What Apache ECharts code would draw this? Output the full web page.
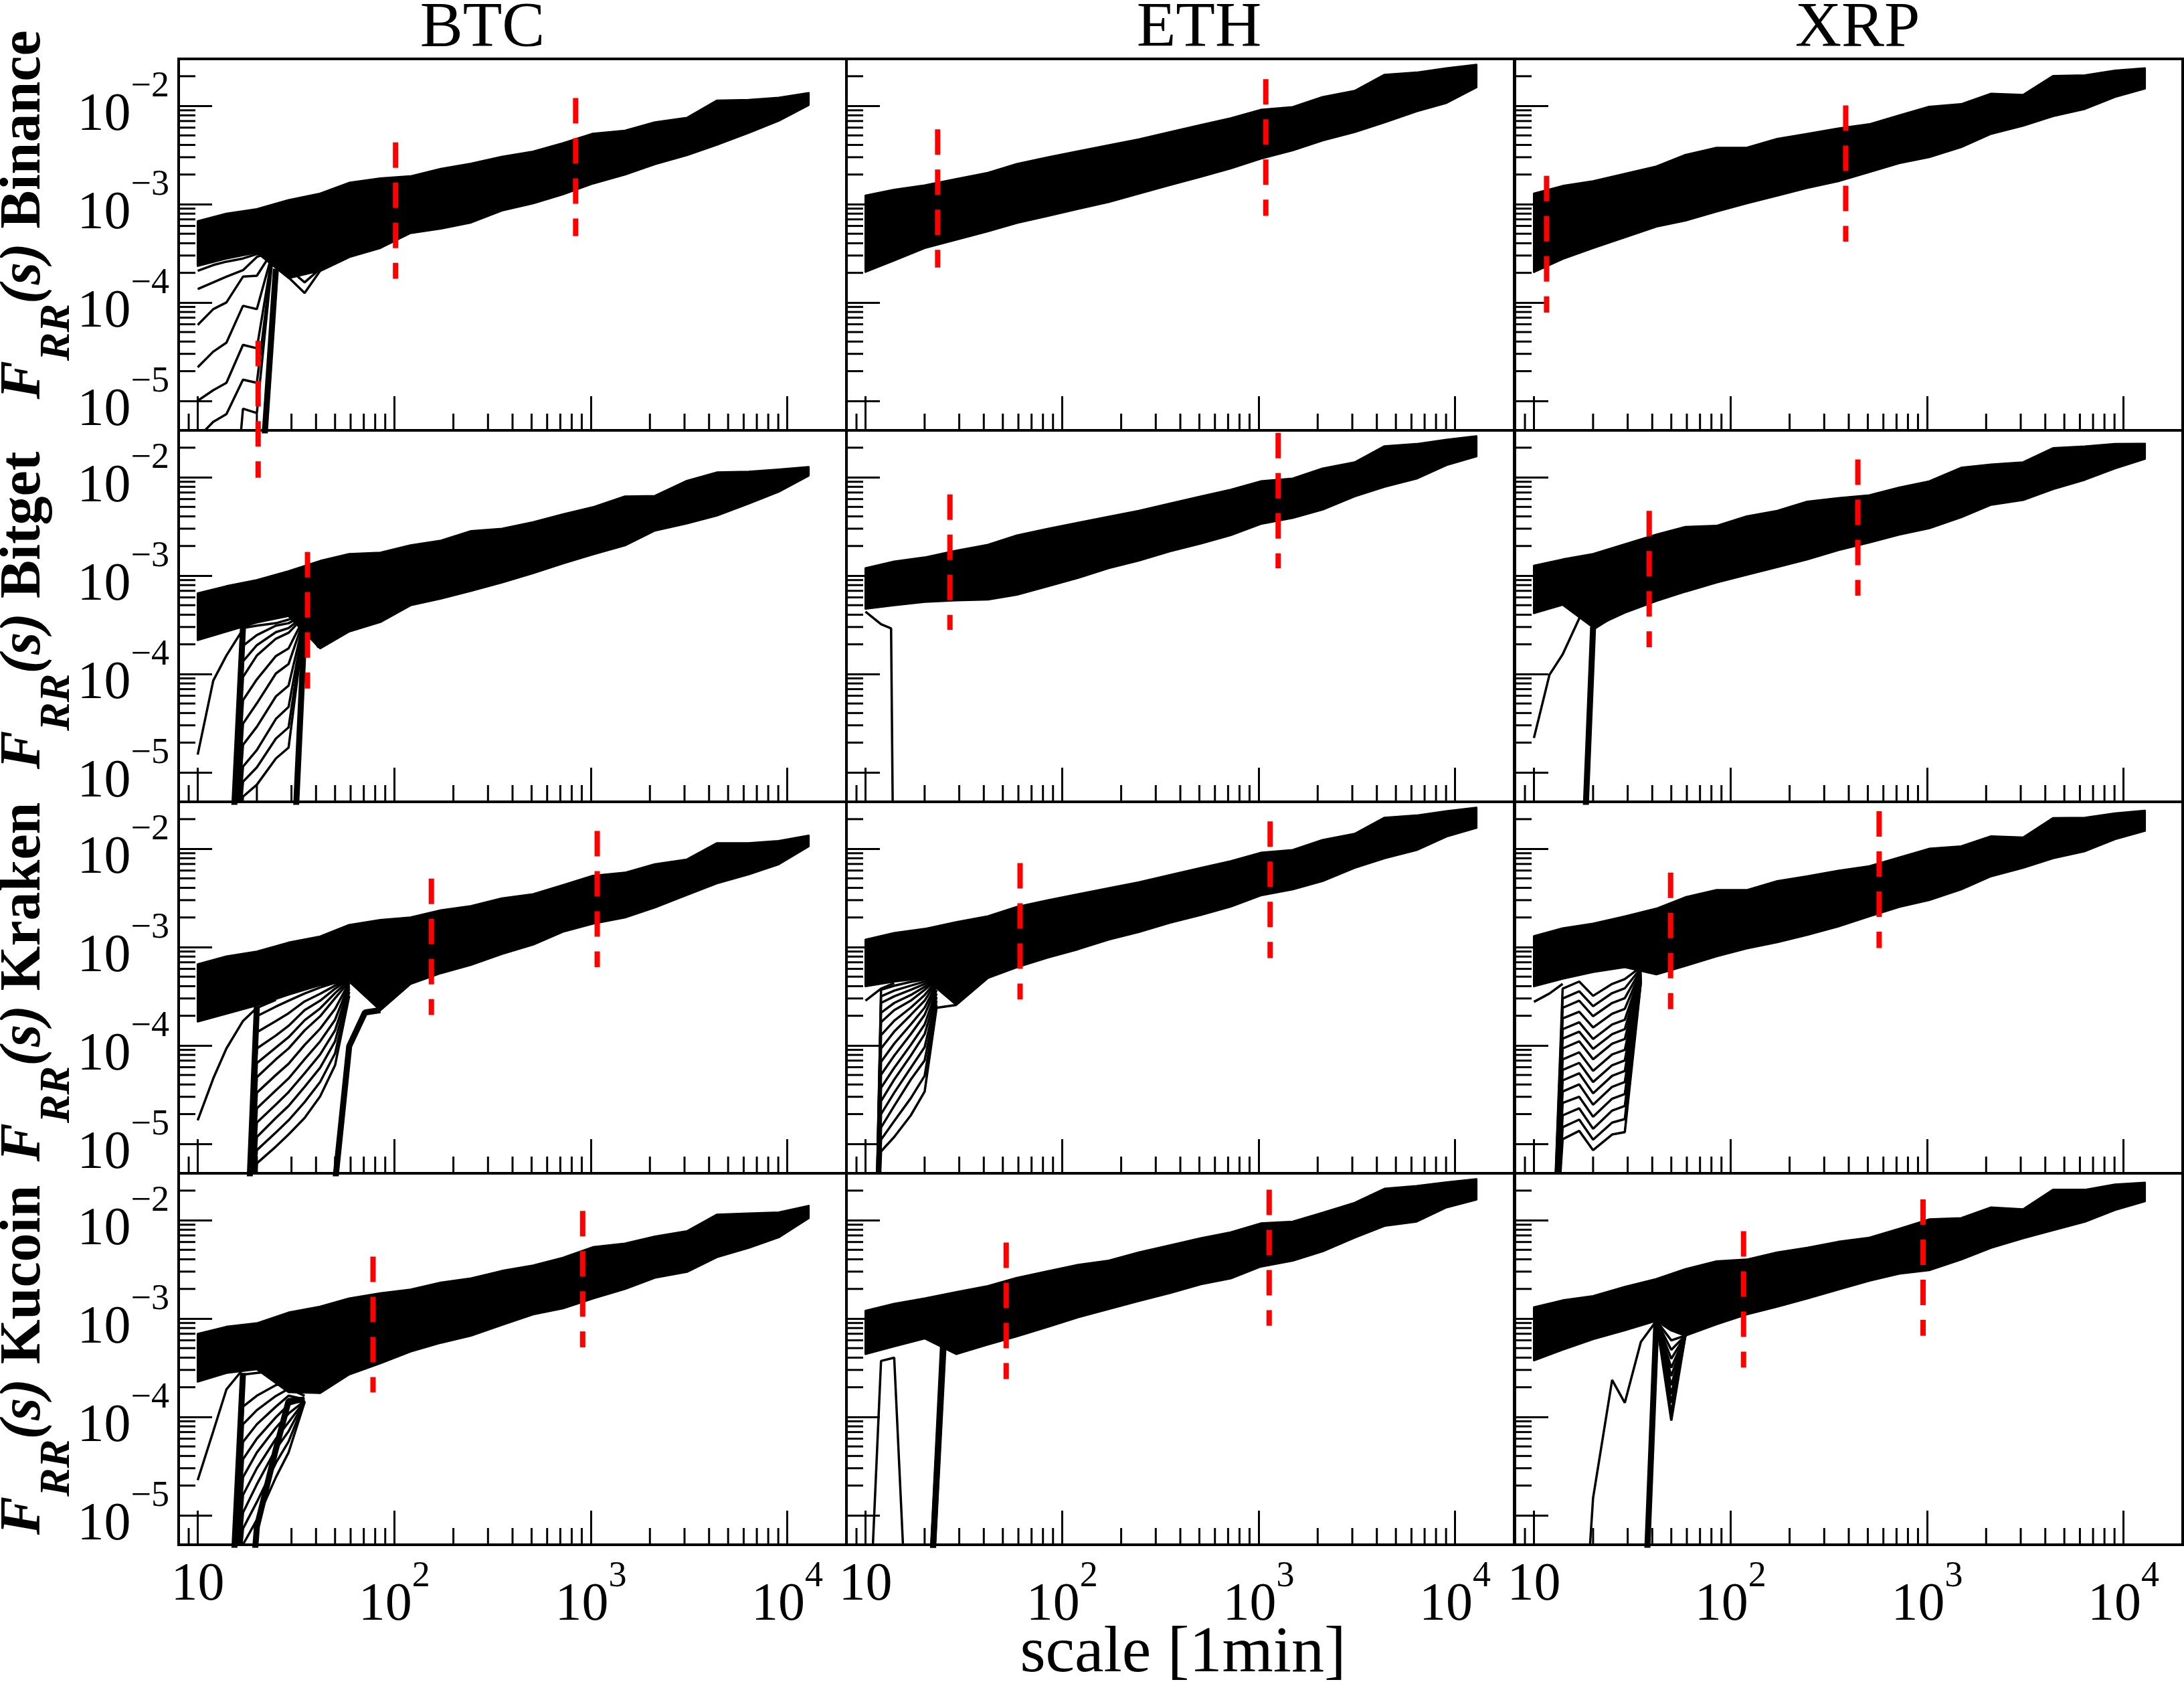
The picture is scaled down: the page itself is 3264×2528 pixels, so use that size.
<!DOCTYPE html>
<html>
<head>
<meta charset="utf-8">
<script src="https://cdn.jsdelivr.net/npm/echarts@6/dist/echarts.min.js"></script>
<style>
  html, body { margin: 0; padding: 0; background: #fff; }
  #chart { width: 3264px; height: 2528px; }
</style>
</head>
<body>
<div id="chart"></div>
<script>
// ---- data ----
const coins = ['BTC', 'ETH', 'XRP'];
const exchanges = ['Binance', 'Bitget', 'Kraken', 'Kucoin'];

// scale grid (1 min units) used for the band edges
const scales = [10, 14, 20, 29, 42, 59, 85, 121, 173, 246, 353, 509, 722, 1026, 1493, 2120, 3085, 4378, 6370, 9046, 12850];

// tick values
const xMinorTicks = [9, 20, 30, 40, 50, 60, 70, 80, 90, 200, 300, 400, 500, 600, 700, 800, 900,
  2000, 3000, 4000, 5000, 6000, 7000, 8000, 9000];
const yMinorTicks = [2e-5, 3e-5, 4e-5, 5e-5, 6e-5, 7e-5, 8e-5, 9e-5, 2e-4, 3e-4, 4e-4, 5e-4, 6e-4, 7e-4, 8e-4, 9e-4,
  2e-3, 3e-3, 4e-3, 5e-3, 6e-3, 7e-3, 8e-3, 9e-3, 2e-2];

// BTC
const btcBinanceUpper = [6.7e-4, 8.0e-4, 8.9e-4, 1.1e-3, 1.28e-3, 1.65e-3, 1.83e-3, 1.92e-3, 2.29e-3, 2.58e-3, 3.03e-3, 3.42e-3, 4.16e-3, 5.21e-3, 5.59e-3, 6.8e-3, 7.55e-3, 1.13e-2, 1.15e-2, 1.21e-2, 1.35e-2];
const btcBinanceLower = [2.35e-4, 2.8e-4, 3.22e-4, 1.77e-4, 2.11e-4, 2.9e-4, 3.58e-4, 5.08e-4, 5.65e-4, 6.5e-4, 8.6e-4, 1.02e-3, 1.26e-3, 1.62e-3, 2.0e-3, 2.55e-3, 3.15e-3, 4.02e-3, 5.32e-3, 7.05e-3, 1.02e-2];
const btcBinanceTails = [
  [[10, 2.1e-4], [12, 2.4e-4], [14, 2.6e-4], [17, 2.8e-4], [20, 3.1e-4], [24, 3.3e-4]],
  [[10, 1.37e-4], [12, 1.6e-4], [14, 1.83e-4], [17, 2.13e-4], [20, 2.9e-4], [24, 3.3e-4]],
  [[10, 5.9e-5], [12, 8.55e-5], [14, 1.0e-4], [17, 1.83e-4], [20, 1.87e-4], [24, 3.3e-4]],
  [[10, 2.19e-5], [12, 3.16e-5], [14, 3.9e-5], [17, 9.25e-5], [20, 8.55e-5], [24, 3.2e-4]],
  [[10, 1.0e-5], [12, 1.28e-5], [14, 1.52e-5], [17, 3.7e-5], [20, 3.42e-5], [24, 3.1e-4]],
  [[10, 4.2e-6], [12, 6.1e-6], [14, 7.3e-6], [17, 1.64e-5], [20, 1.52e-5], [24, 3.0e-4]],
  [[14, 1e-7], [17, 8.3e-6], [20, 7.5e-6], [24, 2.8e-4]],
  [[24, 3.3e-4], [29, 1.8e-4], [35, 1.25e-4], [42, 2.1e-4], [59, 2.9e-4]],
  [[24, 3.3e-4], [29, 2.2e-4], [35, 1.6e-4], [42, 2.2e-4]]
];
const btcBinanceThick = [[[20, 3e-7], [25, 2.2e-4]]];
const btcBinanceMarks = [[101.6, 4.25e-3, 1.74e-4], [838, 1.2e-2, 4.73e-4], [20.3, 4.07e-5, 1.65e-6]];

const btcBitgetUpper = [6.6e-4, 7.8e-4, 9.0e-4, 1.11e-3, 1.41e-3, 1.66e-3, 1.71e-3, 2.03e-3, 2.27e-3, 2.84e-3, 3.0e-3, 3.49e-3, 4.2e-3, 4.96e-3, 6.39e-3, 6.46e-3, 9.2e-3, 1.12e-2, 1.14e-2, 1.2e-2, 1.27e-2];
const btcBitgetLower = [2.21e-4, 2.7e-4, 3.34e-4, 3.88e-4, 1.82e-4, 2.7e-4, 3.37e-4, 4.99e-4, 5.84e-4, 6.99e-4, 8.5e-4, 1.06e-3, 1.33e-3, 1.64e-3, 2.03e-3, 2.87e-3, 3.39e-3, 4.08e-3, 5.4e-3, 7.14e-3, 1.04e-2];
const btcBitgetTails = [
  [[10, 1.51e-5], [12, 8.55e-5], [14, 1.54e-4], [17, 2.85e-4], [20, 3.77e-4]],
  [[14, 1e-7], [17, 2.93e-4], [20, 3.1e-4], [25, 3.28e-4], [29, 3.57e-4], [35, 3.99e-4]],
  [[14, 1e-7], [17, 1.93e-4], [20, 2.48e-4], [25, 3.1e-4], [29, 3.28e-4], [35, 3.99e-4]],
  [[14, 1e-7], [17, 1.34e-4], [20, 1.96e-4], [25, 2.66e-4], [29, 2.93e-4], [35, 3.94e-4]],
  [[14, 1e-7], [17, 9.3e-5], [20, 1.54e-4], [25, 2.28e-4], [29, 2.62e-4], [35, 3.88e-4]],
  [[14, 1e-7], [17, 5.4e-5], [20, 8.8e-5], [25, 1.52e-4], [29, 1.82e-4], [35, 3.82e-4]],
  [[14, 1e-7], [17, 3.12e-5], [20, 5.02e-5], [25, 1.01e-4], [29, 1.26e-4], [35, 3.77e-4]],
  [[14, 1e-7], [17, 1.9e-5], [20, 2.9e-5], [25, 5.9e-5], [29, 7.6e-5], [35, 3.67e-4]],
  [[14, 1e-7], [17, 1.14e-5], [20, 1.68e-5], [25, 3.49e-5], [29, 4.61e-5], [35, 3.57e-4]],
  [[14, 1e-7], [17, 8e-6], [20, 1.12e-5], [25, 2.2e-5], [29, 2.86e-5], [35, 3.47e-4]],
  [[14, 1e-7], [17, 5.65e-6], [20, 7.47e-6], [25, 1.38e-5], [29, 1.78e-5], [35, 3.37e-4]]
];
const btcBitgetThick = [[[14, 1e-7], [17, 3e-4]], [[29, 1e-7], [35, 3.2e-4], [42, 1.9e-4]]];
const btcBitgetMarks = [[36.2, 1.74e-3, 7.1e-5]];

const btcKrakenUpper = [6.68e-4, 8.04e-4, 8.99e-4, 1.11e-3, 1.28e-3, 1.68e-3, 1.89e-3, 2.0e-3, 2.37e-3, 2.61e-3, 3.13e-3, 3.45e-3, 4.27e-3, 5.31e-3, 5.71e-3, 6.95e-3, 7.77e-3, 1.14e-2, 1.14e-2, 1.2e-2, 1.36e-2];
const btcKrakenLower = [1.75e-4, 2.1e-4, 2.55e-4, 3.28e-4, 4.1e-4, 4.46e-4, 2.28e-4, 4.22e-4, 5.43e-4, 6.6e-4, 8.5e-4, 1.06e-3, 1.43e-3, 1.73e-3, 2.0e-3, 2.53e-3, 3.39e-3, 4.44e-3, 5.49e-3, 6.95e-3, 1.06e-2];
const btcKrakenTails = [
  [[10, 1.73e-5], [12, 4.61e-5], [14, 9.3e-5], [17, 1.77e-4], [20, 2.41e-4], [25, 2.9e-4]],
  [[17, 1e-7], [20, 1.98e-4], [25, 2.48e-4], [29, 2.85e-4], [35, 3.37e-4], [42, 3.88e-4], [50, 4.34e-4], [59, 4.72e-4]],
  [[17, 1e-7], [20, 1.36e-4], [25, 1.77e-4], [29, 2.12e-4], [35, 2.8e-4], [42, 3.35e-4], [50, 4.05e-4], [59, 4.72e-4]],
  [[17, 1e-7], [20, 9.3e-5], [25, 1.26e-4], [29, 1.58e-4], [35, 2.28e-4], [42, 2.85e-4], [50, 3.77e-4], [59, 4.72e-4]],
  [[17, 1e-7], [20, 6.6e-5], [25, 9.5e-5], [29, 1.21e-4], [35, 1.8e-4], [42, 2.38e-4], [50, 3.4e-4], [59, 4.6e-4]],
  [[17, 1e-7], [20, 4.75e-5], [25, 7.22e-5], [29, 9.3e-5], [35, 1.42e-4], [42, 1.98e-4], [50, 3.02e-4], [59, 4.46e-4]],
  [[17, 1e-7], [20, 3.3e-5], [25, 5.0e-5], [29, 6.5e-5], [35, 1.01e-4], [42, 1.48e-4], [50, 2.35e-4], [59, 4.35e-4]],
  [[17, 1e-7], [20, 2.29e-5], [25, 3.49e-5], [29, 4.61e-5], [35, 7.22e-5], [42, 1.1e-4], [50, 1.82e-4], [59, 4.22e-4]],
  [[17, 1e-7], [20, 1.64e-5], [25, 2.5e-5], [29, 3.35e-5], [35, 5.2e-5], [42, 8.1e-5], [50, 1.42e-4], [59, 4.0e-4]],
  [[17, 1e-7], [20, 1.17e-5], [25, 1.83e-5], [29, 2.42e-5], [35, 3.79e-5], [42, 5.94e-5], [50, 1.1e-4], [59, 3.77e-4]],
  [[17, 1e-7], [20, 8.6e-6], [25, 1.3e-5], [29, 1.73e-5], [35, 2.65e-5], [42, 4.25e-5], [50, 8.3e-5], [59, 3.5e-4]],
  [[17, 1e-7], [20, 6.31e-6], [25, 9.35e-6], [29, 1.24e-5], [35, 1.83e-5], [42, 3.03e-5], [50, 6.28e-5], [59, 3.19e-4]]
];
const btcKrakenThick = [[[17, 1e-7], [20, 2.5e-4]], [[42, 1e-7], [50, 4e-6], [59, 9.8e-5], [71, 2.16e-4], [85, 2.28e-4]]];
const btcKrakenMarks = [[154.6, 4.96e-3, 2.04e-4], [1079, 1.52e-2, 6.25e-4]];

const btcKucoinUpper = [6.98e-4, 8.24e-4, 8.95e-4, 1.15e-3, 1.32e-3, 1.6e-3, 1.81e-3, 1.97e-3, 2.32e-3, 2.56e-3, 3.05e-3, 3.46e-3, 4.15e-3, 5.32e-3, 5.78e-3, 6.82e-3, 7.73e-3, 1.14e-2, 1.17e-2, 1.2e-2, 1.4e-2];
const btcKucoinLower = [2.28e-4, 2.8e-4, 3.05e-4, 1.78e-4, 1.75e-4, 2.7e-4, 3.51e-4, 4.61e-4, 5.67e-4, 6.7e-4, 8.59e-4, 1.1e-3, 1.27e-3, 1.6e-3, 2.0e-3, 2.6e-3, 2.98e-3, 4.2e-3, 5.24e-3, 6.7e-3, 1.05e-2];
const btcKucoinTails = [
  [[10, 2.27e-5], [12, 7.13e-5], [14, 1.9e-4], [17, 3.05e-4]],
  [[14, 1e-7], [17, 2.69e-4], [20, 2.8e-4], [25, 2.92e-4], [29, 2.74e-4], [35, 2.1e-4], [42, 1.75e-4]],
  [[14, 1e-7], [17, 1.27e-4], [20, 1.64e-4], [25, 2.1e-4], [29, 2.28e-4], [35, 1.78e-4]],
  [[14, 1e-7], [17, 8.4e-5], [20, 1.17e-4], [25, 1.63e-4], [29, 1.93e-4], [35, 1.64e-4]],
  [[14, 1e-7], [17, 5.56e-5], [20, 8.4e-5], [25, 1.27e-4], [29, 1.64e-4], [35, 1.51e-4]],
  [[14, 1e-7], [17, 3.7e-5], [20, 6.0e-5], [25, 9.9e-5], [29, 1.33e-4], [35, 1.48e-4]],
  [[14, 1e-7], [17, 2.43e-5], [20, 4.34e-5], [25, 7.76e-5], [29, 1.08e-4], [35, 1.45e-4]],
  [[14, 1e-7], [17, 1.6e-5], [20, 3.0e-5], [25, 6.0e-5], [29, 8.8e-5], [35, 1.45e-4]],
  [[14, 1e-7], [17, 1.06e-5], [20, 2.06e-5], [25, 4.71e-5], [29, 7.13e-5], [35, 1.45e-4]],
  [[14, 1e-7], [17, 7.3e-6], [20, 1.36e-5], [25, 3.4e-5], [29, 5.6e-5], [35, 1.43e-4]],
  [[14, 1e-7], [17, 5.02e-6], [20, 8.97e-6], [25, 2.43e-5], [29, 4.34e-5], [35, 1.41e-4]]
];
const btcKucoinThick = [[[14, 1e-7], [17, 2.8e-4]], [[17, 1e-7], [20, 7.6e-6], [25, 4.7e-5], [29, 1.45e-4], [35, 1.5e-4]]];
const btcKucoinMarks = [[78, 4.26e-3, 1.77e-4], [910, 1.24e-2, 5.1e-4]];

// ETH
const ethBinanceUpper = [1.22e-3, 1.4e-3, 1.55e-3, 1.8e-3, 2.08e-3, 2.56e-3, 3.0e-3, 3.45e-3, 3.97e-3, 4.56e-3, 5.4e-3, 6.39e-3, 7.47e-3, 9.1e-3, 9.7e-3, 1.23e-2, 1.42e-2, 2.07e-2, 2.18e-2, 2.41e-2, 2.62e-2];
const ethBinanceLower = [2.05e-4, 2.67e-4, 3.58e-4, 4.36e-4, 5.3e-4, 6.45e-4, 7.6e-4, 8.95e-4, 1.05e-3, 1.28e-3, 1.56e-3, 1.9e-3, 2.31e-3, 2.9e-3, 3.53e-3, 4.44e-3, 5.4e-3, 6.79e-3, 8.8e-3, 1.07e-2, 1.54e-2];
const ethBinanceMarks = [[23.3, 5.76e-3, 2.26e-4], [1089, 1.87e-2, 7.6e-4]];

const ethBitgetUpper = [1.19e-3, 1.39e-3, 1.53e-3, 1.79e-3, 2.06e-3, 2.56e-3, 3.0e-3, 3.45e-3, 3.97e-3, 4.56e-3, 5.4e-3, 6.39e-3, 7.47e-3, 9.1e-3, 9.7e-3, 1.23e-2, 1.42e-2, 2.07e-2, 2.18e-2, 2.41e-2, 2.62e-2];
const ethBitgetLower = [4.6e-4, 5.0e-4, 5.4e-4, 5.6e-4, 5.7e-4, 6.4e-4, 7.8e-4, 9.5e-4, 1.19e-3, 1.42e-3, 1.76e-3, 2.12e-3, 2.58e-3, 3.35e-3, 3.86e-3, 4.69e-3, 6.39e-3, 8.0e-3, 9.7e-3, 1.33e-2, 1.63e-2];
const ethBitgetTails = [[[10, 4.3e-4], [12, 3.2e-4], [13.5, 2.9e-4], [14, 1e-7]]];
const ethBitgetMarks = [[26.9, 6.7e-3, 2.81e-4], [1259, 2.83e-2, 1.19e-3]];

const ethKrakenUpper = [1.19e-3, 1.39e-3, 1.53e-3, 1.79e-3, 2.06e-3, 2.56e-3, 3.0e-3, 3.45e-3, 3.97e-3, 4.56e-3, 5.4e-3, 6.39e-3, 7.47e-3, 9.1e-3, 9.7e-3, 1.23e-2, 1.42e-2, 2.07e-2, 2.18e-2, 2.41e-2, 2.62e-2];
const ethKrakenLower = [3.99e-4, 4.46e-4, 4.85e-4, 2.58e-4, 4.85e-4, 6.25e-4, 7.82e-4, 9.51e-4, 1.19e-3, 1.42e-3, 1.76e-3, 2.12e-3, 2.58e-3, 3.35e-3, 3.86e-3, 4.69e-3, 6.39e-3, 8.0e-3, 9.7e-3, 1.33e-2, 1.63e-2];
const ethKrakenTails = [
  [[10, 2.85e-4], [12, 3.77e-4], [14, 4.3e-4]],
  [[11, 1e-7], [12, 3.67e-4], [14, 4.04e-4], [17, 4.42e-4], [20, 4.67e-4], [23, 4.85e-4]],
  [[11, 1e-7], [12, 3.15e-4], [14, 3.6e-4], [17, 4.05e-4], [20, 4.45e-4], [23, 4.8e-4]],
  [[11, 1e-7], [12, 2.7e-4], [14, 3.15e-4], [17, 3.67e-4], [20, 4.22e-4], [23, 4.77e-4]],
  [[11, 1e-7], [12, 2.15e-4], [14, 2.7e-4], [17, 3.25e-4], [20, 3.95e-4], [23, 4.7e-4]],
  [[11, 1e-7], [12, 1.72e-4], [14, 2.28e-4], [17, 2.85e-4], [20, 3.67e-4], [23, 4.67e-4]],
  [[11, 1e-7], [12, 1.27e-4], [14, 1.78e-4], [17, 2.42e-4], [20, 3.25e-4], [23, 4.55e-4]],
  [[11, 1e-7], [12, 9.3e-5], [14, 1.38e-4], [17, 2.04e-4], [20, 2.85e-4], [23, 4.46e-4]],
  [[11, 1e-7], [12, 6.8e-5], [14, 1.04e-4], [17, 1.63e-4], [20, 2.42e-4], [23, 4.2e-4]],
  [[11, 1e-7], [12, 5.02e-5], [14, 7.86e-5], [17, 1.3e-4], [20, 2.04e-4], [23, 3.99e-4]],
  [[11, 1e-7], [12, 3.7e-5], [14, 5.9e-5], [17, 1.01e-4], [20, 1.63e-4], [23, 3.65e-4]],
  [[11, 1e-7], [12, 2.71e-5], [14, 4.49e-5], [17, 7.86e-5], [20, 1.3e-4], [23, 3.37e-4]],
  [[11, 1e-7], [12, 2.0e-5], [14, 3.3e-5], [17, 5.9e-5], [20, 9.6e-5], [23, 3.1e-4]],
  [[11, 1e-7], [12, 1.46e-5], [14, 2.42e-5], [17, 4.49e-5], [20, 7.03e-5], [23, 2.85e-4]],
  [[11, 1e-7], [12, 1.1e-5], [14, 1.7e-5], [17, 2.9e-5], [20, 4.9e-5], [23, 2.6e-4]],
  [[11, 1e-7], [12, 8.36e-6], [14, 1.17e-5], [17, 1.94e-5], [20, 3.39e-5], [23, 2.41e-4], [29, 2.58e-4]]
];
const ethKrakenMarks = [[61.2, 7.14e-3, 2.93e-4], [1146, 1.9e-2, 7.73e-4]];

const ethKucoinUpper = [1.2e-3, 1.41e-3, 1.6e-3, 1.86e-3, 2.14e-3, 2.59e-3, 3.03e-3, 3.52e-3, 3.88e-3, 4.7e-3, 5.55e-3, 6.55e-3, 7.54e-3, 9.28e-3, 9.67e-3, 1.19e-2, 1.5e-2, 2.09e-2, 2.23e-2, 2.43e-2, 2.62e-2];
const ethKucoinLower = [4.35e-4, 5.22e-4, 6.27e-4, 4.35e-4, 5.44e-4, 6.59e-4, 8.24e-4, 1.03e-3, 1.25e-3, 1.51e-3, 1.81e-3, 2.23e-3, 2.56e-3, 3.37e-3, 3.88e-3, 4.82e-3, 6.65e-3, 8.75e-3, 9.67e-3, 1.35e-2, 1.62e-2];
const ethKucoinTails = [[[10, 1e-7], [12, 3.7e-4], [14, 4.0e-4], [17, 1e-7]]];
const ethKucoinThick = [[[20, 9e-8], [25, 7.4e-4]], [[20, 1e-7], [25, 5.5e-4]]];
const ethKucoinMarks = [[52, 5.93e-3, 2.42e-4], [1133, 2.04e-2, 8.44e-4]];

// XRP
const xrpBinanceUpper = [1.28e-3, 1.53e-3, 1.71e-3, 2.03e-3, 2.42e-3, 3.17e-3, 3.75e-3, 3.75e-3, 4.61e-3, 5.19e-3, 5.87e-3, 6.5e-3, 8.0e-3, 9.8e-3, 1.04e-2, 1.33e-2, 1.29e-2, 2.01e-2, 2.04e-2, 2.28e-2, 2.41e-2];
const xrpBinanceLower = [2.04e-4, 2.77e-4, 3.57e-4, 4.59e-4, 5.9e-4, 6.8e-4, 8.4e-4, 1.02e-3, 1.22e-3, 1.46e-3, 1.71e-3, 2.12e-3, 2.61e-3, 3.0e-3, 3.8e-3, 5.19e-3, 6.28e-3, 7.86e-3, 9.3e-3, 1.23e-2, 1.5e-2];
const xrpBinanceMarks = [[11.6, 1.94e-3, 7.9e-5], [386, 1.01e-2, 4.15e-4]];

const xrpBitgetUpper = [1.26e-3, 1.46e-3, 1.66e-3, 2.08e-3, 2.61e-3, 3.13e-3, 3.21e-3, 4.01e-3, 4.56e-3, 5.65e-3, 6.14e-3, 6.57e-3, 7.86e-3, 9.1e-3, 1.25e-2, 1.35e-2, 1.42e-2, 1.98e-2, 2.06e-2, 2.18e-2, 2.19e-2];
const xrpBitgetLower = [4.15e-4, 5.05e-4, 2.98e-4, 4.2e-4, 5.52e-4, 6.87e-4, 8.5e-4, 1.02e-3, 1.22e-3, 1.46e-3, 1.81e-3, 2.17e-3, 2.61e-3, 3.03e-3, 3.92e-3, 5.25e-3, 5.87e-3, 7.56e-3, 9.45e-3, 1.23e-2, 1.54e-2];
const xrpBitgetTails = [[[10, 2.23e-5], [12, 9.8e-5], [14, 1.58e-4], [17, 3.67e-4], [20, 6.07e-4]]];
const xrpBitgetThick = [[[17, 1e-7], [20, 2.98e-4], [25, 3.95e-4]]];
const xrpBitgetMarks = [[38.6, 4.56e-3, 1.87e-4], [445, 1.52e-2, 6.25e-4]];

const xrpKrakenUpper = [1.29e-3, 1.55e-3, 1.73e-3, 2.05e-3, 2.46e-3, 3.21e-3, 3.8e-3, 3.8e-3, 4.69e-3, 5.25e-3, 5.97e-3, 6.64e-3, 8.13e-3, 1.0e-2, 1.06e-2, 1.34e-2, 1.3e-2, 2.05e-2, 2.07e-2, 2.29e-2, 2.44e-2];
const xrpKrakenLower = [3.99e-4, 4.77e-4, 5.58e-4, 6.25e-4, 5.28e-4, 6.43e-4, 8.04e-4, 9.67e-4, 1.12e-3, 1.33e-3, 1.62e-3, 2.05e-3, 2.56e-3, 3.0e-3, 3.86e-3, 5.25e-3, 6.39e-3, 8.0e-3, 9.45e-3, 1.25e-2, 1.52e-2];
const xrpKrakenTails = [
  [[10, 2.77e-4], [12, 3.37e-4], [14, 4.22e-4]],
  [[12, 1e-7], [14, 3.77e-4], [17, 4.46e-4], [20, 3.19e-4], [25, 4.22e-4], [29, 4.72e-4], [35, 6.25e-4]],
  [[12, 1e-7], [14, 3.0e-4], [17, 3.55e-4], [20, 2.5e-4], [25, 3.4e-4], [29, 3.8e-4], [35, 6.1e-4]],
  [[12, 1e-7], [14, 2.41e-4], [17, 2.85e-4], [20, 1.98e-4], [25, 2.7e-4], [29, 3.02e-4], [35, 5.9e-4]],
  [[12, 1e-7], [14, 1.88e-4], [17, 2.2e-4], [20, 1.52e-4], [25, 2.1e-4], [29, 2.35e-4], [35, 5.75e-4]],
  [[12, 1e-7], [14, 1.46e-4], [17, 1.72e-4], [20, 1.16e-4], [25, 1.63e-4], [29, 1.82e-4], [35, 5.58e-4]],
  [[12, 1e-7], [14, 1.17e-4], [17, 1.38e-4], [20, 9.2e-5], [25, 1.3e-4], [29, 1.46e-4], [35, 5.4e-4]],
  [[12, 1e-7], [14, 9.3e-5], [17, 1.1e-4], [20, 7.22e-5], [25, 1.04e-4], [29, 1.16e-4], [35, 5.28e-4]],
  [[12, 1e-7], [14, 7.2e-5], [17, 8.5e-5], [20, 5.5e-5], [25, 8.1e-5], [29, 9.0e-5], [35, 5.1e-4]],
  [[12, 1e-7], [14, 5.62e-5], [17, 6.64e-5], [20, 4.24e-5], [25, 6.28e-5], [29, 7.03e-5], [35, 4.99e-4]],
  [[12, 1e-7], [14, 4.4e-5], [17, 5.2e-5], [20, 3.25e-5], [25, 4.9e-5], [29, 5.5e-5], [35, 4.85e-4]],
  [[12, 1e-7], [14, 3.39e-5], [17, 4.01e-5], [20, 2.49e-5], [25, 3.79e-5], [29, 4.24e-5], [35, 4.72e-4]],
  [[12, 1e-7], [14, 2.6e-5], [17, 3.0e-5], [20, 1.88e-5], [25, 2.87e-5], [29, 3.2e-5], [35, 4.65e-4]],
  [[12, 1e-7], [14, 1.94e-5], [17, 2.29e-5], [20, 1.42e-5], [25, 2.17e-5], [29, 2.42e-5], [35, 4.59e-4]],
  [[12, 1e-7], [14, 1.47e-5], [17, 1.76e-5], [20, 1.1e-5], [25, 1.64e-5], [29, 1.78e-5], [35, 4.45e-4]],
  [[12, 1e-7], [14, 1.11e-5], [17, 1.35e-5], [20, 8.6e-6], [25, 1.24e-5], [29, 1.31e-5], [35, 4.34e-4]]
];
const xrpKrakenMarks = [[49.6, 5.71e-3, 2.34e-4], [571, 2.41e-2, 9.78e-4]];

const xrpKucoinUpper = [1.3e-3, 1.53e-3, 1.69e-3, 2.1e-3, 2.52e-3, 3.18e-3, 3.82e-3, 3.98e-3, 4.7e-3, 5.24e-3, 6.03e-3, 6.65e-3, 8.19e-3, 1.02e-2, 1.05e-2, 1.35e-2, 1.29e-2, 2.04e-2, 2.04e-2, 2.31e-2, 2.41e-2];
const xrpKucoinLower = [3.75e-4, 4.81e-4, 6.17e-4, 7.58e-4, 9.48e-4, 6.7e-4, 8.73e-4, 1.1e-3, 1.32e-3, 1.6e-3, 1.97e-3, 2.42e-3, 2.86e-3, 3.1e-3, 3.98e-3, 5.24e-3, 6.55e-3, 7.92e-3, 9.67e-3, 1.27e-2, 1.56e-2];
const xrpKucoinTails = [
  [[17, 1e-7], [20, 1.5e-5], [25, 2.37e-4], [29, 1.39e-4], [35, 5.77e-4], [42, 9.48e-4]],
  [[42, 9.48e-4], [50, 7.58e-4], [59, 6.7e-4]],
  [[42, 9.48e-4], [50, 6.0e-4], [59, 6.7e-4]],
  [[42, 9.48e-4], [50, 4.81e-4], [59, 6.7e-4]],
  [[42, 9.48e-4], [50, 3.9e-4], [59, 6.7e-4]],
  [[42, 9.48e-4], [50, 3.16e-4], [59, 6.7e-4]],
  [[42, 9.48e-4], [50, 2.6e-4], [59, 6.7e-4]],
  [[42, 9.48e-4], [50, 2.09e-4], [59, 6.7e-4]],
  [[42, 9.48e-4], [50, 1.7e-4], [59, 6.7e-4]],
  [[42, 9.48e-4], [50, 1.39e-4], [59, 6.7e-4]],
  [[42, 9.48e-4], [50, 1.1e-4], [59, 6.7e-4]],
  [[42, 9.48e-4], [50, 9.17e-5], [59, 6.7e-4]]
];
const xrpKucoinThick = [[[35, 1e-7], [42, 9.48e-4]]];
const xrpKucoinMarks = [[116.6, 7.73e-3, 3.17e-4], [955, 1.63e-2, 6.68e-4]];

// panels in row-major order (rows = exchanges, columns = coins)
const panels = [
  { upper: btcBinanceUpper, lower: btcBinanceLower, tails: btcBinanceTails, thick: btcBinanceThick, marks: btcBinanceMarks },
  { upper: ethBinanceUpper, lower: ethBinanceLower, tails: [], thick: [], marks: ethBinanceMarks },
  { upper: xrpBinanceUpper, lower: xrpBinanceLower, tails: [], thick: [], marks: xrpBinanceMarks },
  { upper: btcBitgetUpper, lower: btcBitgetLower, tails: btcBitgetTails, thick: btcBitgetThick, marks: btcBitgetMarks },
  { upper: ethBitgetUpper, lower: ethBitgetLower, tails: ethBitgetTails, thick: [], marks: ethBitgetMarks },
  { upper: xrpBitgetUpper, lower: xrpBitgetLower, tails: xrpBitgetTails, thick: xrpBitgetThick, marks: xrpBitgetMarks },
  { upper: btcKrakenUpper, lower: btcKrakenLower, tails: btcKrakenTails, thick: btcKrakenThick, marks: btcKrakenMarks },
  { upper: ethKrakenUpper, lower: ethKrakenLower, tails: ethKrakenTails, thick: [], marks: ethKrakenMarks },
  { upper: xrpKrakenUpper, lower: xrpKrakenLower, tails: xrpKrakenTails, thick: [], marks: xrpKrakenMarks },
  { upper: btcKucoinUpper, lower: btcKucoinLower, tails: btcKucoinTails, thick: btcKucoinThick, marks: btcKucoinMarks },
  { upper: ethKucoinUpper, lower: ethKucoinLower, tails: ethKucoinTails, thick: ethKucoinThick, marks: ethKucoinMarks },
  { upper: xrpKucoinUpper, lower: xrpKucoinLower, tails: xrpKucoinTails, thick: xrpKucoinThick, marks: xrpKucoinMarks }
];

// ---- layout ----
const XMIN = 8, XMAX = 20000, YMIN = 5e-6, YMAX = 0.03;
const colLeft = [267, 1265, 2264];
const colWidth = 998;
const rowTop = [88, 643, 1198, 1753];
const rowHeight = 555;
const FONT = 'Liberation Serif';

const labelRich = {
  p: { fontFamily: FONT, fontSize: 80, color: '#000' },
  b: { fontFamily: FONT, fontSize: 80, color: '#000', padding: [30, 0, 0, 0] },
  s: { fontFamily: FONT, fontSize: 54, color: '#000', verticalAlign: 'top' }
};

function xLabel(v) {
  const e = Math.round(Math.log10(v));
  return e === 1 ? '{p|10}' : '{b|10}{s|' + e + '}';
}
function yLabel(v) {
  const e = Math.round(Math.log10(v));
  return '{b|10}{s|\u2212' + (-e) + '}';
}

const grids = [], xAxes = [], yAxes = [], series = [];

panels.forEach(function (p, i) {
  const r = Math.floor(i / 3), c = i % 3;
  grids.push({
    left: colLeft[c], top: rowTop[r], width: colWidth, height: rowHeight,
    show: true, borderColor: '#000', borderWidth: 4, backgroundColor: 'rgba(0,0,0,0)'
  });
  xAxes.push({
    type: 'log', logBase: 10, gridIndex: i, min: XMIN, max: XMAX,
    axisLine: { show: false }, splitLine: { show: false },
    axisTick: { show: true, inside: true, length: 51, lineStyle: { color: '#000', width: 3 } },
    axisLabel: {
      show: r === 3, margin: 21, showMinLabel: false, showMaxLabel: false,
      formatter: xLabel, rich: labelRich
    }
  });
  yAxes.push({
    type: 'log', logBase: 10, gridIndex: i, min: YMIN, max: YMAX,
    axisLine: { show: false }, splitLine: { show: false },
    axisTick: { show: true, inside: true, length: 50, lineStyle: { color: '#000', width: 3 } },
    axisLabel: {
      show: c === 0, margin: 14, showMinLabel: false, showMaxLabel: false,
      formatter: yLabel, rich: labelRich
    }
  });

  // black band between the outer curves
  series.push({
    type: 'custom', xAxisIndex: i, yAxisIndex: i, clip: true, silent: true, z: 2,
    data: [[scales[0], p.upper[0]]],
    renderItem: function (params, api) {
      const pts = [];
      for (let k = 0; k < scales.length; k++) pts.push(api.coord([scales[k], p.upper[k]]));
      for (let k = scales.length - 1; k >= 0; k--) pts.push(api.coord([scales[k], p.lower[k]]));
      return {
        type: 'polygon', shape: { points: pts },
        style: { fill: '#000', stroke: '#000', lineWidth: 3, lineJoin: 'round' }
      };
    }
  });

  // individual curves that leave the band
  p.tails.forEach(function (t) {
    series.push({
      type: 'line', xAxisIndex: i, yAxisIndex: i, data: t, symbol: 'none', silent: true, z: 3,
      lineStyle: { color: '#000', width: 3.5 }
    });
  });
  p.thick.forEach(function (t) {
    series.push({
      type: 'line', xAxisIndex: i, yAxisIndex: i, data: t, symbol: 'none', silent: true, z: 3,
      lineStyle: { color: '#000', width: 9 }
    });
  });

  // red dashed crossover markers
  series.push({
    type: 'custom', xAxisIndex: i, yAxisIndex: i, clip: false, silent: true, z: 6,
    data: p.marks,
    renderItem: function (params, api) {
      const a = api.coord([api.value(0), api.value(1)]);
      const b = api.coord([api.value(0), api.value(2)]);
      return {
        type: 'line', shape: { x1: a[0], y1: a[1], x2: b[0], y2: b[1] },
        style: { stroke: '#ff0000', lineWidth: 8, lineDash: [38, 22] }
      };
    }
  });

  // minor ticks
  series.push({
    type: 'custom', xAxisIndex: i, yAxisIndex: i, silent: true, z: 5,
    data: xMinorTicks.map(function (v) { return [v, YMIN]; }),
    renderItem: function (params, api) {
      const q = api.coord([api.value(0), api.value(1)]);
      return { type: 'line', shape: { x1: q[0], y1: q[1], x2: q[0], y2: q[1] - 25 }, style: { stroke: '#000', lineWidth: 3 } };
    }
  });
  series.push({
    type: 'custom', xAxisIndex: i, yAxisIndex: i, silent: true, z: 5,
    data: yMinorTicks.map(function (v) { return [XMIN, v]; }),
    renderItem: function (params, api) {
      const q = api.coord([api.value(0), api.value(1)]);
      return { type: 'line', shape: { x1: q[0], y1: q[1], x2: q[0] + 25, y2: q[1] }, style: { stroke: '#000', lineWidth: 3 } };
    }
  });
});

// column titles, row labels, x title
const titleX = [721, 1792, 2776];
const rowLabelY = [321, 912, 1467, 2032];
const graphics = [];
coins.forEach(function (name, c) {
  graphics.push({
    type: 'text', x: titleX[c], y: 44, silent: true,
    style: { text: name, font: '96px "Liberation Serif"', fill: '#000', textAlign: 'center', textVerticalAlign: 'middle' }
  });
});
exchanges.forEach(function (name, r) {
  graphics.push({
    type: 'text', x: 37, y: rowLabelY[r], rotation: Math.PI / 2, silent: true,
    style: {
      text: '{f|F}{r|RR}{t|(s)}{n| ' + name + '}',
      textAlign: 'center', textVerticalAlign: 'middle', fill: '#000',
      rich: {
        f: { fontFamily: FONT, fontSize: 86, fontWeight: 'bold', fontStyle: 'italic' },
        r: { fontFamily: FONT, fontSize: 64, fontWeight: 'bold', fontStyle: 'italic', padding: [99, 0, 0, 0] },
        t: { fontFamily: FONT, fontSize: 86, fontWeight: 'bold', fontStyle: 'italic' },
        n: { fontFamily: FONT, fontSize: 86, fontWeight: 'bold' }
      }
    }
  });
});
graphics.push({
  type: 'text', x: 1768, y: 2471, silent: true,
  style: { text: 'scale [1min]', font: '98px "Liberation Serif"', fill: '#000', textAlign: 'center', textVerticalAlign: 'middle' }
});

const chart = echarts.init(document.getElementById('chart'));
chart.setOption({
  backgroundColor: '#fff',
  animation: false,
  grid: grids,
  xAxis: xAxes,
  yAxis: yAxes,
  series: series,
  graphic: graphics
});
</script>
</body>
</html>
